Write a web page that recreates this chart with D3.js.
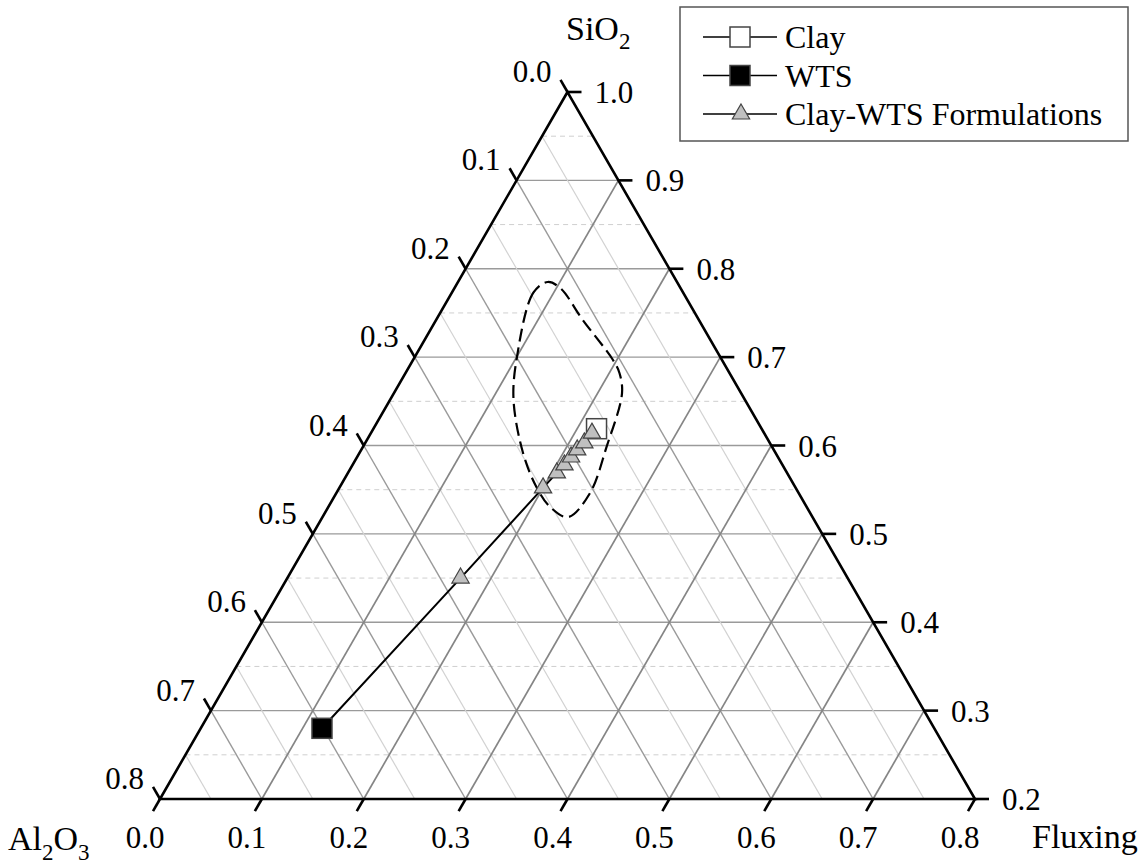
<!DOCTYPE html>
<html>
<head>
<meta charset="utf-8">
<script src="https://cdn.jsdelivr.net/npm/d3@7"></script>
<style>
  html, body { margin: 0; padding: 0; background: #fff; }
  svg { display: block; }
</style>
</head>
<body>
<svg id="chart" width="1148" height="864" font-family="'Liberation Serif', Tinos, 'Times New Roman', 'DejaVu Serif', serif"></svg>
<script>
// Compositions are [SiO2, Al2O3, Fluxing] mass fractions.
const clay = [0.619, 0.162, 0.219];
const wts = [0.280, 0.601, 0.119];
const formulations = [
  [0.614, 0.169, 0.217],
  [0.603, 0.182, 0.215],
  [0.595, 0.193, 0.212],
  [0.587, 0.203, 0.210],
  [0.578, 0.214, 0.208],
  [0.569, 0.226, 0.205],
  [0.552, 0.248, 0.200],
  [0.450, 0.380, 0.170]
];
// Closed envelope around the formulation field
const envelope = [
  [0.785, 0.127, 0.088],
  [0.773, 0.148, 0.080],
  [0.701, 0.200, 0.100],
  [0.652, 0.227, 0.121],
  [0.591, 0.248, 0.161],
  [0.553, 0.254, 0.193],
  [0.531, 0.252, 0.217],
  [0.519, 0.240, 0.241],
  [0.546, 0.205, 0.249],
  [0.599, 0.162, 0.239],
  [0.659, 0.117, 0.224],
  [0.682, 0.108, 0.210],
  [0.697, 0.107, 0.196],
  [0.742, 0.114, 0.144],
  [0.778, 0.118, 0.104]
];
const siTicks = [0.2, 0.3, 0.4, 0.5, 0.6, 0.7, 0.8, 0.9, 1.0];
const alTicks = [0.0, 0.1, 0.2, 0.3, 0.4, 0.5, 0.6, 0.7, 0.8];
const fxTicks = [0.0, 0.1, 0.2, 0.3, 0.4, 0.5, 0.6, 0.7, 0.8];
const siMinor = [0.25, 0.35, 0.45, 0.55, 0.65, 0.75, 0.85, 0.95];
const alMinor = [0.05, 0.15, 0.25, 0.35, 0.45, 0.55, 0.65, 0.75];
const legendItems = ["Clay", "WTS", "Clay-WTS Formulations"];

const svg = d3.select("#chart");
const fmt = d3.format(".1f");

// Plot triangle: SiO2 spans 0.2..1.0, the other two 0..0.8
const xs = d3.scaleLinear().domain([0, 1]).range([160, 975]);
const ys = d3.scaleLinear().domain([0.2, 1.0]).range([799, 92]);
const span = d3.scaleLinear().domain([0, 0.8]).range([0, 1]);

function proj(c) {
  const s = span(c[0] - 0.2), f = span(c[2]);
  return [xs(f + s / 2), ys(c[0])];
}
const line = d3.line();

const grid = svg.append("g");
// constant SiO2 (horizontal)
siTicks.filter(v => v > 0.2 && v < 1).forEach(v => {
  grid.append("path").attr("d", line([proj([v, 1 - v, 0]), proj([v, 0, 1 - v])]))
    .attr("stroke", "#9a9a9a").attr("stroke-width", 1.3).attr("fill", "none");
});
siMinor.forEach(v => {
  grid.append("path").attr("d", line([proj([v, 1 - v, 0]), proj([v, 0, 1 - v])]))
    .attr("stroke", "#cfcfcf").attr("stroke-width", 1).attr("stroke-dasharray", "5,4").attr("fill", "none");
});
// constant Al2O3
alMinor.forEach(v => {
  grid.append("path").attr("d", line([proj([0.2, v, 0.8 - v]), proj([1 - v, v, 0])]))
    .attr("stroke", "#d2d2d2").attr("stroke-width", 1.2).attr("fill", "none");
});
alTicks.filter(v => v > 0 && v < 0.8).forEach(v => {
  grid.append("path").attr("d", line([proj([0.2, v, 0.8 - v]), proj([1 - v, v, 0])]))
    .attr("stroke", "#9a9a9a").attr("stroke-width", 1.4).attr("fill", "none");
});
// constant Fluxing
fxTicks.filter(v => v > 0 && v < 0.8).forEach(v => {
  grid.append("path").attr("d", line([proj([0.2, 0.8 - v, v]), proj([1 - v, 0, v])]))
    .attr("stroke", "#858585").attr("stroke-width", 1.7).attr("fill", "none");
});

// Frame
const T = proj([1, 0, 0]), BL = proj([0.2, 0.8, 0]), BR = proj([0.2, 0, 0.8]);
svg.append("path").attr("d", line([T, BL, BR]) + "Z")
  .attr("stroke", "#000").attr("stroke-width", 2.6).attr("fill", "none")
  .attr("stroke-linejoin", "miter");

const tickLen = 14;
const c60 = 0.5, s60 = Math.sqrt(3) / 2;
const axes = svg.append("g");
// Bottom (Fluxing)
fxTicks.forEach(v => {
  const p = proj([0.2, 0.8 - v, v]);
  const e = [p[0] - tickLen * c60, p[1] + tickLen * s60];
  axes.append("path").attr("d", line([p, e])).attr("stroke", "#000").attr("stroke-width", 2.6);
  axes.append("text").attr("x", p[0] - 15).attr("y", 848).attr("text-anchor", "middle")
    .attr("font-size", 31).text(fmt(v));
});
// Right (SiO2)
siTicks.forEach(v => {
  const p = proj([v, 0, 1 - v]);
  const e = [p[0] + tickLen, p[1]];
  axes.append("path").attr("d", line([p, e])).attr("stroke", "#000").attr("stroke-width", 2.6);
  axes.append("text").attr("x", p[0] + 27).attr("y", p[1] + 11)
    .attr("font-size", 31).text(fmt(v));
});
// Left (Al2O3)
alTicks.forEach(v => {
  const p = proj([1 - v, v, 0]);
  const e = [p[0] - tickLen * c60, p[1] - tickLen * s60];
  axes.append("path").attr("d", line([p, e])).attr("stroke", "#000").attr("stroke-width", 2.6);
  axes.append("text").attr("x", p[0] - 16).attr("y", p[1] - 10).attr("text-anchor", "end")
    .attr("font-size", 31).text(fmt(v));
});

// Axis titles
const tSi = svg.append("text").attr("x", 566).attr("y", 40).attr("font-size", 34);
tSi.append("tspan").text("SiO");
tSi.append("tspan").attr("font-size", 23).attr("dy", 9).text("2");

const tAl = svg.append("text").attr("x", 8).attr("y", 850).attr("font-size", 34);
tAl.append("tspan").text("Al");
tAl.append("tspan").attr("font-size", 23).attr("dy", 10).text("2");
tAl.append("tspan").attr("dy", -10).text("O");
tAl.append("tspan").attr("font-size", 23).attr("dy", 10).text("3");

svg.append("text").attr("x", 1032).attr("y", 848).attr("font-size", 34).text("Fluxing");

// Envelope
svg.append("path")
  .attr("d", d3.line().curve(d3.curveCatmullRomClosed.alpha(0.5))(envelope.map(proj)))
  .attr("fill", "none").attr("stroke", "#000").attr("stroke-width", 2.2)
  .attr("stroke-dasharray", "13,6");

// Mixing line WTS -> formulations -> clay
const path = [wts].concat(formulations.slice().sort((a, b) => a[0] - b[0]), [clay]);
svg.append("path").attr("d", line(path.map(proj)))
  .attr("fill", "none").attr("stroke", "#000").attr("stroke-width", 2);

const tri = d3.symbol(d3.symbolTriangle, 130);
function drawSquare(g, p, fill) {
  g.append("rect").attr("x", p[0] - 10).attr("y", p[1] - 10).attr("width", 20).attr("height", 20)
    .attr("fill", fill).attr("stroke", "#444").attr("stroke-width", 1.5);
}
function drawTri(g, p) {
  g.append("path").attr("d", tri()).attr("transform", `translate(${p[0]},${p[1]})`)
    .attr("fill", "#c0c0c0").attr("stroke", "#444").attr("stroke-width", 1.2);
}
const marks = svg.append("g");
drawSquare(marks, proj(clay), "#fff");
drawSquare(marks, proj(wts), "#000");
formulations.slice().reverse().forEach(c => drawTri(marks, proj(c)));

// Legend
const lg = svg.append("g");
lg.append("rect").attr("x", 680).attr("y", 7).attr("width", 448).attr("height", 134)
  .attr("fill", "#fff").attr("stroke", "#555").attr("stroke-width", 1.5);
legendItems.forEach((name, i) => {
  const cy = 37 + i * 38.5;
  lg.append("path").attr("d", line([[703, cy], [777, cy]])).attr("stroke", "#000").attr("stroke-width", 1.6);
  if (i === 0) drawSquare(lg, [740, cy], "#fff");
  else if (i === 1) drawSquare(lg, [740, cy], "#000");
  else drawTri(lg, [741, cy]);
  lg.append("text").attr("x", 785).attr("y", cy + 11).attr("font-size", 32).text(name);
});
</script>
</body>
</html>
